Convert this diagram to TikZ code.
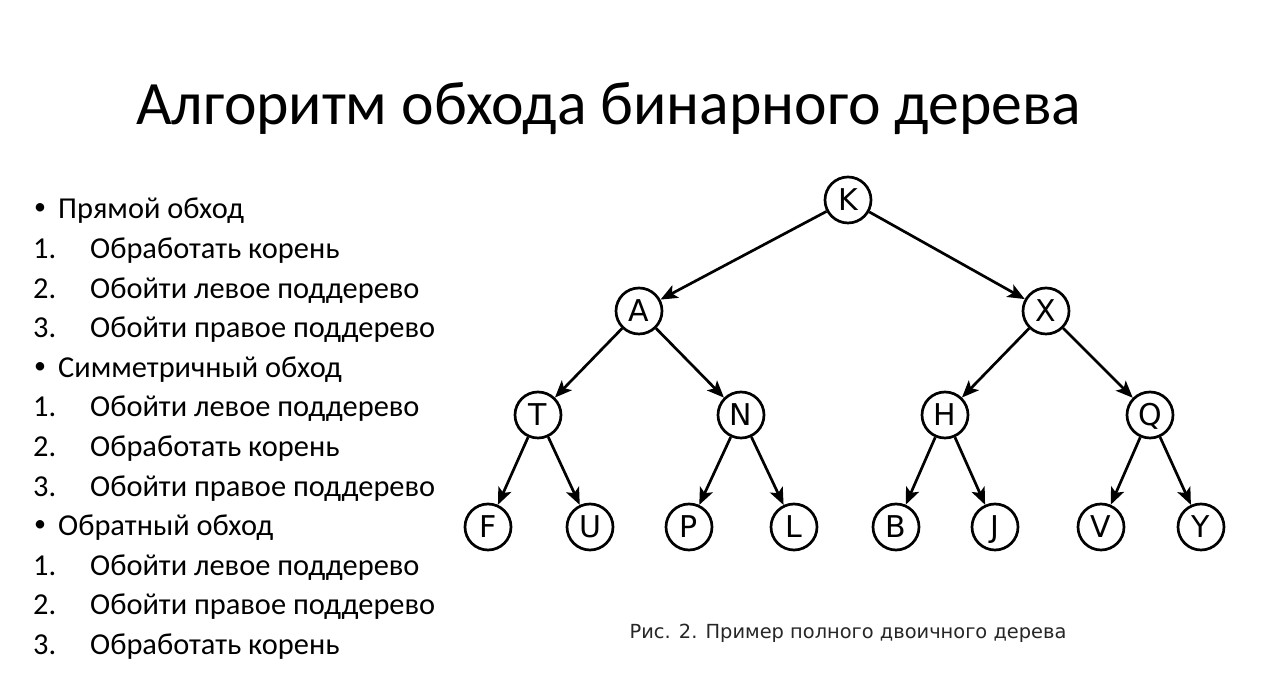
\documentclass[tikz,border=0pt]{standalone}
\usepackage{fontspec}
\setmainfont{Carlito}
\newfontfamily\nodefont{DejaVu Sans}
\newfontfamily\capfont{DejaVu Sans}
\usetikzlibrary{arrows.meta}
\begin{document}
\begin{tikzpicture}[x=1pt,y=1pt,
  tn/.style={circle,draw,line width=2.7pt,minimum size=46pt,inner sep=0pt,text height=22pt,text depth=0pt,font=\nodefont\fontsize{30}{30}\selectfont},
  edge/.style={line width=2.7pt,-{Stealth[length=17pt,width=14pt,inset=4pt]}},
  lt/.style={anchor=base west,inner sep=0pt,font=\fontsize{30.4}{36}\selectfont},
  bt/.style={anchor=base west,inner sep=0pt,font=\fontsize{24}{26}\selectfont}]
\useasboundingbox (0,0) rectangle (1264,690);
\fill[white] (0,0) rectangle (1264,690);
\node[anchor=base west,inner sep=0pt,font=\fontsize{61.7}{66}\selectfont] (title) at (136,565) {Алгоритм обхода бинарного дерева};
% list
\foreach \i/\n/\t in {0/0/{Прямой обход},1/1/{Обработать корень},2/2/{Обойти левое поддерево},3/3/{Обойти правое поддерево},
  4/0/{Симметричный обход},5/1/{Обойти левое поддерево},6/2/{Обработать корень},7/3/{Обойти правое поддерево},
  8/0/{Обратный обход},9/1/{Обойти левое поддерево},10/2/{Обойти правое поддерево},11/3/{Обработать корень}}{
  \pgfmathsetmacro\yy{690-219-39.6*\i}
  \ifnum\n=0
    \node[bt] (m\i) at (34,\yy+4) {•};
    \node[lt] (l\i) at (58,\yy) {\t};
  \else
    \node[lt] (m\i) at (33,\yy) {\n.};
    \node[lt] (l\i) at (90,\yy) {\t};
  \fi
}
% tree
\node[tn] (K) at (848,490) {K};
\node[tn] (A) at (639,379) {A};
\node[tn] (X) at (1046,379) {X};
\node[tn] (T) at (538,275) {T};
\node[tn] (N) at (741,275) {N};
\node[tn] (H) at (945,275) {H};
\node[tn] (Q) at (1150,275) {Q};
\node[tn] (F) at (488,163) {F};
\node[tn] (U) at (590,163) {U};
\node[tn] (P) at (689,163) {P};
\node[tn] (L) at (794,163) {L};
\node[tn] (B) at (896,163) {B};
\node[tn] (J) at (995,163) {J};
\node[tn] (V) at (1101,163) {V};
\node[tn] (Y) at (1201,163) {Y};
\foreach \a/\b in {K/A,K/X,A/T,A/N,X/H,X/Q,T/F,T/U,N/P,N/L,H/B,H/J,Q/V,Q/Y}
  \draw[edge] (\a) -- (\b);
\node[anchor=base,inner sep=0pt,font=\capfont\fontsize{19.4}{22}\selectfont,text=black!85] (cap) at (848,51) {Рис. 2. Пример полного двоичного дерева};
\end{tikzpicture}
\end{document}
